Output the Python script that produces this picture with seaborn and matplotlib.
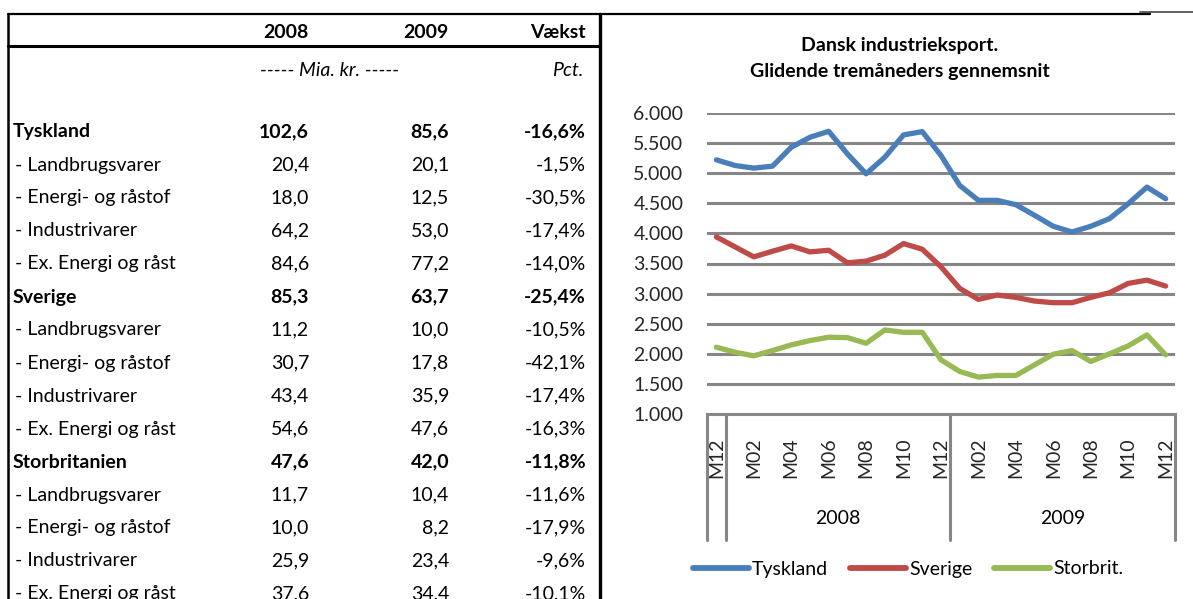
import numpy as np
import pandas as pd
import matplotlib
matplotlib.use("Agg")
import matplotlib.pyplot as plt
import matplotlib.transforms as mtransforms
from matplotlib.lines import Line2D
import seaborn as sns

# ---------------- data ----------------
row_labels = ["Tyskland", "- Landbrugsvarer", "- Energi- og råstof", "- Industrivarer",
              "- Ex. Energi og råst",
              "Sverige", "- Landbrugsvarer", "- Energi- og råstof", "- Industrivarer",
              "- Ex. Energi og råst",
              "Storbritanien", "- Landbrugsvarer", "- Energi- og råstof", "- Industrivarer",
              "- Ex. Energi og råst"]
row_bold = [True, False, False, False, False,
            True, False, False, False, False,
            True, False, False, False, False]
val_2008 = [102.6, 20.4, 18.0, 64.2, 84.6, 85.3, 11.2, 30.7, 43.4, 54.6, 47.6, 11.7, 10.0, 25.9, 37.6]
val_2009 = [85.6, 20.1, 12.5, 53.0, 77.2, 63.7, 10.0, 17.8, 35.9, 47.6, 42.0, 10.4, 8.2, 23.4, 34.4]
growth = [-16.6, -1.5, -30.5, -17.4, -14.0, -25.4, -10.5, -42.1, -17.4, -16.3, -11.8, -11.6, -17.9, -9.6, -10.1]

periods = ["M12",
           "M01", "M02", "M03", "M04", "M05", "M06", "M07", "M08", "M09", "M10", "M11", "M12",
           "M01", "M02", "M03", "M04", "M05", "M06", "M07", "M08", "M09", "M10", "M11", "M12"]
year_groups = ["", "2008", "2009"]
year_sizes = [1, 12, 12]

tyskland = [5222, 5128, 5084, 5117, 5431, 5597, 5696, 5321, 4990, 5266, 5636, 5691, 5294,
            4797, 4549, 4549, 4477, 4300, 4118, 4024, 4118, 4245, 4493, 4769, 4576]
sverige = [3942, 3776, 3610, 3704, 3792, 3693, 3720, 3511, 3539, 3638, 3831, 3737, 3445,
           3086, 2904, 2976, 2937, 2876, 2849, 2849, 2937, 3014, 3169, 3224, 3125]
storbrit = [2109, 2026, 1966, 2054, 2148, 2220, 2275, 2269, 2175, 2396, 2357, 2357, 1899,
            1706, 1613, 1640, 1640, 1817, 1993, 2054, 1872, 1999, 2131, 2314, 1982]
series_names = ["Tyskland", "Sverige", "Storbrit."]
series_colors = ["#4A7EBB", "#BE4B48", "#98B954"]

# ---------------- style ----------------
sns.set_style("white")
plt.rcParams["font.family"] = ["Lato", "DejaVu Sans"]
plt.rcParams["text.color"] = "black"

W, H = 1193, 599
fig = plt.figure(figsize=(W / 100, H / 100), dpi=100)
fig.patch.set_facecolor("white")


def fx(x):
    return x / W


def fy(y):
    return 1 - y / H


def hline(x0, x1, y, lw=1.5, color="black"):
    fig.add_artist(Line2D([fx(x0), fx(x1)], [fy(y), fy(y)], color=color, lw=lw,
                          transform=fig.transFigure))


def vline(x, y0, y1, lw=1.5, color="black"):
    fig.add_artist(Line2D([fx(x), fx(x)], [fy(y0), fy(y1)], color=color, lw=lw,
                          transform=fig.transFigure))


def fmt(v, pct=False):
    s = f"{v:.1f}".replace(".", ",")
    return s + "%" if pct else s


# ---------------- table ----------------
FS = 14
hline(8, 1150, 14, lw=1.6)
hline(1140, 1193, 12, lw=1.2, color="#444444")
vline(8, 14, 599, lw=1.8)
vline(600, 14, 599, lw=2.4)
hline(8, 600, 46, lw=2.2)

col_x = [309, 449, 586]
fig.text(fx(col_x[0]), fy(32), "2008", ha="right", va="center", fontsize=FS, fontweight="bold")
fig.text(fx(col_x[1]), fy(32), "2009", ha="right", va="center", fontsize=FS, fontweight="bold")
fig.text(fx(col_x[2]), fy(32), "Vækst", ha="right", va="center", fontsize=FS, fontweight="bold")
fig.text(fx(260), fy(70), "----- Mia. kr. -----", ha="left", va="center", fontsize=FS, style="italic")
fig.text(fx(583), fy(70), "Pct.", ha="right", va="center", fontsize=FS, style="italic")

for k, (lab, b) in enumerate(zip(row_labels, row_bold)):
    y = 132 + 33 * k
    w = "bold" if b else "normal"
    fig.text(fx(13 if b else 15), fy(y), lab, ha="left", va="center", fontsize=FS, fontweight=w)
    fig.text(fx(col_x[0]), fy(y), fmt(val_2008[k]), ha="right", va="center", fontsize=FS, fontweight=w)
    fig.text(fx(col_x[1]), fy(y), fmt(val_2009[k]), ha="right", va="center", fontsize=FS, fontweight=w)
    fig.text(fx(col_x[2]), fy(y), fmt(growth[k], pct=True), ha="right", va="center", fontsize=FS, fontweight=w)

# ---------------- chart ----------------
fig.text(fx(900), fy(45), "Dansk industrieksport.", ha="center", va="center", fontsize=14, fontweight="bold")
fig.text(fx(900), fy(72), "Glidende tremåneders gennemsnit", ha="center", va="center", fontsize=14, fontweight="bold")

ax_l, ax_t, ax_r, ax_b = 707, 113, 1175, 414
ax = fig.add_axes([fx(ax_l), fy(ax_b), (ax_r - ax_l) / W, (ax_b - ax_t) / H])
ax.set_facecolor("none")

n = len(periods)
pos = list(range(n))
df = pd.DataFrame({
    "pos": pos * 3,
    "value": tyskland + sverige + storbrit,
    "series": [series_names[0]] * n + [series_names[1]] * n + [series_names[2]] * n,
})
sns.lineplot(data=df, x="pos", y="value", hue="series", palette=series_colors,
             hue_order=series_names, lw=3.8, legend=False, ax=ax, zorder=3)
for ln in ax.get_lines():
    ln.set_solid_capstyle("round")
    ln.set_solid_joinstyle("round")

ax.set_xlim(-0.5, n - 0.5)
ax.set_ylim(1000, 6000)
yt = np.arange(1000, 6001, 500)
ax.set_yticks(yt)
ax.set_yticklabels([f"{v:,.0f}".replace(",", ".") for v in yt], fontsize=14)
for v in yt[1:]:
    ax.axhline(v, color="#868686", lw=2.2, zorder=1)
for s in ["top", "right", "left"]:
    ax.spines[s].set_visible(False)
ax.spines["bottom"].set_color("#868686")
ax.spines["bottom"].set_linewidth(2.2)
ax.tick_params(axis="y", length=0, pad=17)
ax.set_xticks(pos[::2])
ax.set_xticklabels(periods[::2], rotation=90, fontsize=14, va="top", ha="center")
ax.tick_params(axis="x", length=0, pad=17)
ax.set_xlabel("")
ax.set_ylabel("")

# category group separators and year labels
trans = mtransforms.blended_transform_factory(ax.transData, ax.transAxes)
axh = ax_b - ax_t
sep_bottom = -(540 - ax_b) / axh
bounds = np.cumsum([0] + year_sizes) - 0.5
for b in bounds:
    ax.add_line(Line2D([b, b], [0, sep_bottom], transform=trans, color="#868686",
                       lw=2.2, clip_on=False))
year_y = -(518 - ax_b) / axh
for g, s, e in zip(year_groups, bounds[:-1], bounds[1:]):
    if g:
        ax.text((s + e) / 2, year_y, g, transform=trans, ha="center", va="center", fontsize=14)

handles = [Line2D([], [], color=c, lw=4.2, solid_capstyle="round") for c in series_colors]
fig.legend(handles, series_names, loc="center", bbox_to_anchor=(fx(908), fy(569)), ncol=3,
           frameon=False, fontsize=14, handlelength=2.9, handletextpad=0.15, columnspacing=1.1,
           borderaxespad=0)

fig.savefig("out.png", dpi=100, facecolor="white")
